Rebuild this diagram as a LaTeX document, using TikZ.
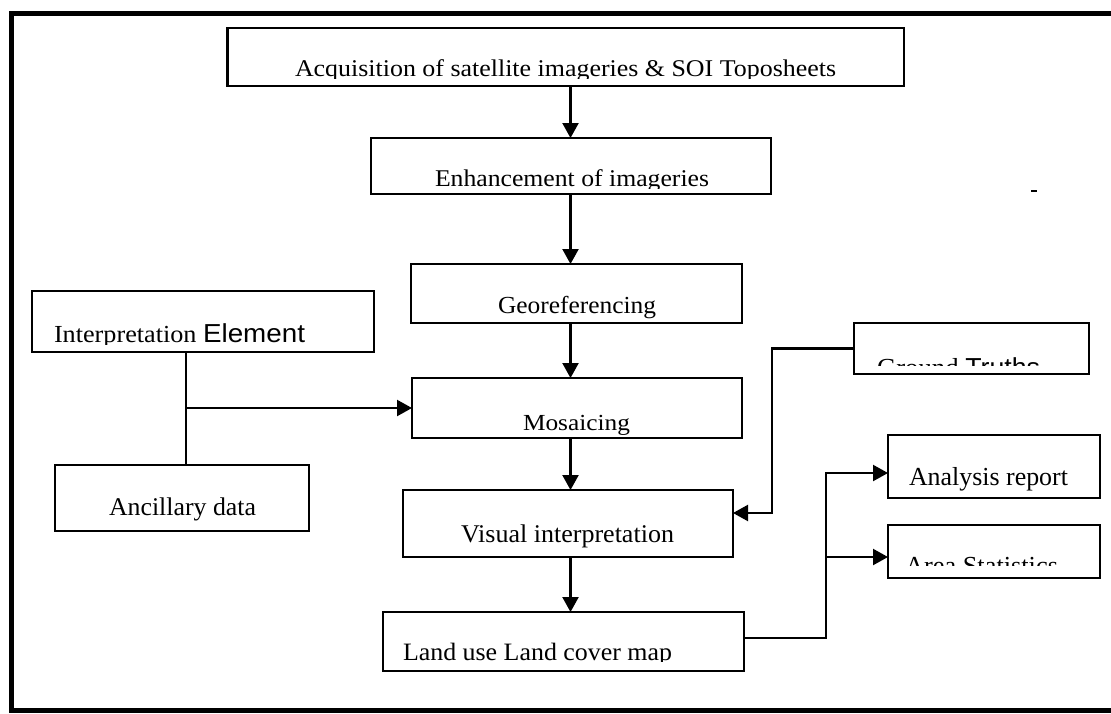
\documentclass[tikz,border=0pt]{standalone}
\usepackage{fontspec}
\setmainfont{Liberation Serif}
\newfontfamily\arialf{Liberation Sans}
\usepackage{graphicx}
\usetikzlibrary{arrows.meta}
\newcommand\stretchtxt[3]{\resizebox{#2pt}{\height}{\fontsize{#1pt}{#1pt}\selectfont #3}}
\begin{document}
\begin{tikzpicture}[x=1pt,y=-1pt,
  box/.style={draw, line width=2.2pt, inner sep=0pt, outer sep=0pt, anchor=north west},
  lbl/.style={anchor=base west, inner sep=0pt, outer sep=0pt},
  conn/.style={line width=2.2pt},
  arr/.style={conn, -{Triangle[length=15pt,width=16pt]}},
  frame/.style={line width=5pt}]
\useasboundingbox (0,0) rectangle (1111,713);
% frame
\draw[frame] (1111,13) -- (11,13) -- (11,713);
\draw[frame] (11,710) -- (1111,710);
% boxes
\node[box, minimum width=676.5pt, minimum height=58pt] (acq) at (227.5,28) {};
\node[box, minimum width=400pt, minimum height=56pt] (enh) at (371,138) {};
\node[box, minimum width=331pt, minimum height=59pt] (geo) at (411,264) {};
\node[box, minimum width=342pt, minimum height=61pt] (interp) at (32,291) {};
\node[box, minimum width=330pt, minimum height=60pt] (mos) at (412,378) {};
\node[box, minimum width=254pt, minimum height=66pt] (anc) at (55,465) {};
\node[box, minimum width=330pt, minimum height=67pt] (vis) at (403,490) {};
\node[box, minimum width=361pt, minimum height=59pt] (land) at (383,612) {};
\node[box, minimum width=235pt, minimum height=51pt] (gt) at (854,323) {};
\node[box, minimum width=212pt, minimum height=63pt] (ana) at (888,435) {};
\node[box, minimum width=212pt, minimum height=53pt] (area) at (888,525) {};
% texts
\begin{scope}
\clip (0,0) rectangle (1111,78);
\node[lbl] (acqt) at (295,76.5) {\stretchtxt{24}{541}{Acquisition of satellite imageries \& SOI Toposheets}};
\end{scope}
\begin{scope}
\clip (0,0) rectangle (1111,188.5);
\node[lbl] (enht) at (435,186) {\stretchtxt{24}{274}{Enhancement of imageries}};
\end{scope}
\node[lbl] (geot) at (498,313) {\stretchtxt{24.5}{158}{Georeferencing}};
\begin{scope}
\clip (0,0) rectangle (1111,344);
\node[lbl] (interpt) at (54,342) {\resizebox{251pt}{\height}{\fontsize{24.5pt}{24.5pt}\selectfont Interpretation {\arialf\fontsize{26pt}{26pt}\selectfont Element}}};
\end{scope}
\node[lbl] (anct) at (109,515) {\stretchtxt{25.5}{147}{Ancillary data}};
\node[lbl] (most) at (523,430) {\stretchtxt{23}{107}{Mosaicing}};
\node[lbl] (vist) at (461,542) {\stretchtxt{25.5}{213}{Visual interpretation}};
\begin{scope}
\clip (0,0) rectangle (1111,661.5);
\node[lbl] (landt) at (403,660) {\stretchtxt{25}{269}{Land use Land cover map}};
\end{scope}
\begin{scope}
\clip (0,0) rectangle (1111,365);
\node[lbl] (gtt) at (877,376) {\resizebox{163pt}{\height}{\fontsize{26pt}{26pt}\selectfont Ground {\arialf Truths}}};
\end{scope}
\node[lbl] (anat) at (909,485) {\stretchtxt{26}{159}{Analysis report}};
\begin{scope}
\clip (0,0) rectangle (1111,565);
\node[lbl] (areat) at (905,574) {\stretchtxt{26}{153}{Area Statistics}};
\end{scope}
% connectors
\coordinate (spine) at (570.5,0);
\draw[arr] (acq.south -| spine) -- (enh.north -| spine);
\draw[arr] (enh.south -| spine) -- (geo.north -| spine);
\draw[arr] (geo.south -| spine) -- (mos.north -| spine);
\draw[arr] (mos.south -| spine) -- (vis.north -| spine);
\draw[arr] (vis.south -| spine) -- (land.north -| spine);
\coordinate (jx) at (186,0);
\coordinate (jn) at (186,408);
\draw[conn] (interp.south -| jx) -- (anc.north -| jx);
\draw[arr] (jn) -- (mos.west |- jn);
\coordinate (gty) at (772,513);
\draw[arr] (gt.west) -| (gty) -- (vis.east |- gty);
\coordinate (lo) at (826,638);
\coordinate (ly1) at (826,473);
\coordinate (ly2) at (826,557);
\draw[arr] (land.east |- lo) -- (lo) -- (ly1) -- (ana.west |- ly1);
\draw[arr] (ly2) -- (area.west |- ly2);
% stray mark
\draw[conn] (1031,191) -- (1037,191);
\end{tikzpicture}
\end{document}
